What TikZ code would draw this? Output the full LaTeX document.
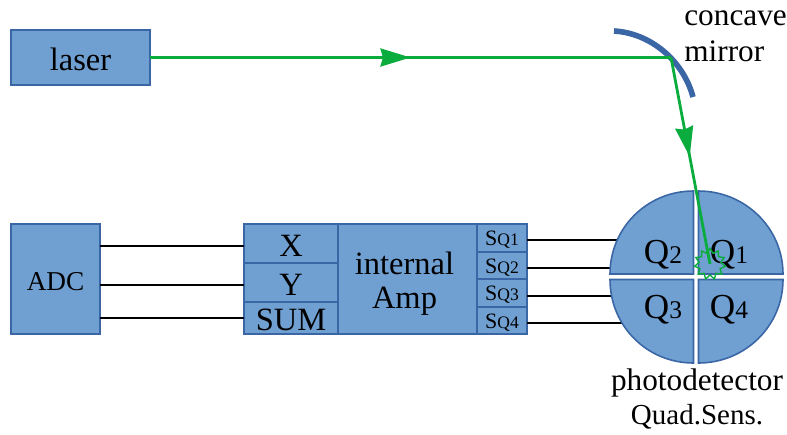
\documentclass[tikz,border=0pt]{standalone}
\usepackage{fontspec}
\setmainfont{Liberation Serif}
\usepackage{xcolor}
\usetikzlibrary{arrows.meta, positioning, shapes.geometric, decorations.markings}
\definecolor{boxblue}{RGB}{112, 160, 210}
\definecolor{edgeblue}{RGB}{58, 102, 165}
\definecolor{beamgreen}{RGB}{10, 172, 62}
\newcommand{\bigfont}{\fontsize{18.5}{19.3}\selectfont}
\newcommand{\capfont}{\fontsize{17.8}{19.3}\selectfont}
\newcommand{\qfont}{\fontsize{20}{22}\selectfont}
\newcommand{\digfont}{\fontsize{14.5}{16}\selectfont}
\newcommand{\drop}[1]{\raisebox{-1.2pt}[\height][\depth]{#1}}
\newcommand{\sqlabel}[1]{\drop{\fontsize{12.5}{14}\selectfont S{\fontsize{10}{12}\selectfont Q#1}}}
\tikzset{
  block/.style={draw=edgeblue, fill=boxblue, line width=0.9pt, inner sep=0pt, outer sep=0pt, align=center, font=\bigfont},
  sector/.style={draw=edgeblue, fill=boxblue, line width=0.9pt},
  sqbox/.style={block, minimum width=1cm, minimum height=0.55cm},
  xybox/.style={block, minimum width=1.88cm},
  beam/.style={draw=beamgreen, line width=1.6pt},
  beamhead/.style={postaction={decorate, decoration={markings, mark=at position #1 with {\arrow[beamgreen]{Stealth[length=0.6cm, width=0.36cm, inset=0.05cm]}}}}},
  wire/.style={draw=black, line width=0.9pt},
  caption/.style={inner sep=0pt, align=left, font=\capfont}
}
\begin{document}
\begin{tikzpicture}[x=0.02cm, y=-0.02cm]
  \useasboundingbox (0,0) rectangle (787,434);
  % blocks
  \node[block, minimum width=2.78cm, minimum height=1.1cm] (laser) at (80.5,57.5) {\drop{laser}};
  \node[block, minimum width=1.78cm, minimum height=2.2cm] (adc) at (55.5,279) {\drop{\fontsize{15.5}{17}\selectfont ADC}};
  \node[xybox, minimum height=0.78cm] (x) at (291,243.5) {\drop{X}};
  \node[xybox, minimum height=0.78cm, below=0cm of x] (y) {\drop{Y}};
  \node[xybox, minimum height=0.64cm, below=0cm of y] (sum) {\drop{SUM}};
  \node[block, minimum width=2.78cm, minimum height=2.2cm] (amp) at (407.5,279) {\raisebox{-3pt}[\height][\depth]{\begin{tabular}{@{}c@{}}internal\\Amp\end{tabular}}\hspace{3.4pt}};
  \node[sqbox] (sq1) at (502,238) {\sqlabel{1}};
  \node[sqbox, below=0cm of sq1] (sq2) {\sqlabel{2}};
  \node[sqbox, below=0cm of sq2] (sq3) {\sqlabel{3}};
  \node[sqbox, below=0cm of sq3] (sq4) {\sqlabel{4}};
  % wire ends
  \coordinate (wx) at (244,246);
  \coordinate (wy) at (244,285);
  \coordinate (wsum) at (244,318);
  \coordinate (q1end) at (617,240);
  \coordinate (q2end) at (610,268);
  \coordinate (q3end) at (612,296);
  \coordinate (q4end) at (622,323);
  \foreach \w in {wx, wy, wsum} {
    \draw[wire] (adc.east |- \w) -- (\w);
  }
  \foreach \s in {1,2,3,4} {
    \draw[wire] (sq1.east |- q\s end) -- (q\s end);
  }
  % quadrants
  \path[sector] (698.5,274) -- (698.5,191) .. controls (745,191) and (783,228) .. (783,274) -- cycle;
  \path[sector] (693.5,274) -- (693.5,191) .. controls (647,191) and (610,228) .. (610,274) -- cycle;
  \path[sector] (693.5,279.5) -- (693.5,363) .. controls (647,363) and (610,326) .. (610,279.5) -- cycle;
  \path[sector] (698.5,279.5) -- (698.5,363) .. controls (745,363) and (783,326) .. (783,279.5) -- cycle;
  \node[inner sep=0pt] (q1) at (729,255) {\qfont Q\digfont 1};
  \node[inner sep=0pt] (q2) at (663,255) {\qfont Q\digfont 2};
  \node[inner sep=0pt] (q3) at (663,310) {\qfont Q\digfont 3};
  \node[inner sep=0pt] (q4) at (729,310) {\qfont Q\digfont 4};
  % mirror and beam
  \draw[draw=edgeblue, line width=3.2pt] (614,31) .. controls (650,33) and (683,60) .. (693,97);
  \coordinate (hit) at (671,57.5);
  \node[star, star points=11, star point ratio=1.4, draw=beamgreen, line width=0.8pt, inner sep=0pt, minimum size=0.62cm] (spot) at (710,264) {};
  \draw[beam, beamhead=0.5] (laser.east) -- (hit);
  \draw[beam, beamhead=0.48] (hit) -- (spot.center);
  % captions
  \node[caption, anchor=west] (concave) at (684,18) {concave};
  \node[caption, anchor=west] (mirror) at (684,51) {mirror};
  \node[caption, align=center] (photo) at (697,383) {photodetector};
  \node[caption, align=center, font=\fontsize{16.5}{18}\selectfont] (quad) at (697,417) {Quad.Sens.};
\end{tikzpicture}
\end{document}
